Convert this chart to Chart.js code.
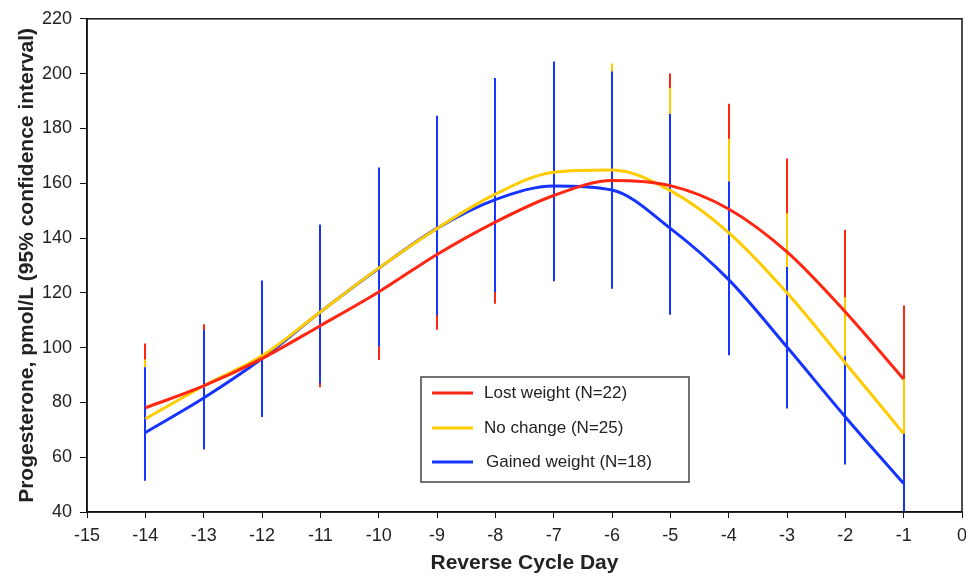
<!DOCTYPE html>
<html>
<head>
<meta charset="utf-8">
<script src="https://cdn.jsdelivr.net/npm/chart.js@4.4.0/dist/chart.umd.min.js"></script>
<style>
  html, body { margin: 0; padding: 0; background: #fff; }
  #wrap { width: 966px; height: 576px; }
</style>
</head>
<body>
<div id="wrap"><canvas id="chartProg" width="966" height="576"></canvas></div>
<script>
// días del ciclo (inverso)
const days = [-14, -13, -12, -11, -10, -9, -8, -7, -6, -5, -4, -3, -2, -1];

const lostMean = [78, 86, 96, 108, 120.3, 134, 145.8, 155.5, 161, 159.1, 150.6, 134.9, 113, 88.5];
const lostHigh = [101.5, 108.5, 121, 137, 153, 168, 182, 192, 198, 200, 189, 169, 143, 115.4];
const lostLow  = [56, 65, 76, 85.5, 95.5, 106.5, 116, 126, 125, 123, 115, 103, 87, 65];

const sameMean = [74, 86, 97, 113, 129, 143.5, 156, 164, 164.8, 157.3, 142, 120, 94.4, 68.6];
const sameHigh = [95.7, 105, 122, 140, 158, 176, 190, 200, 203.7, 194.7, 176.2, 149, 118.4, 88.5];
const sameLow  = [53, 64, 76, 89, 101, 113, 123, 128, 127, 122, 110, 95, 75, 52];

const gainMean = [69, 81.6, 96, 113, 128.9, 143.5, 154, 159, 157.5, 143.5, 124.8, 100.2, 74.7, 50.4];
const gainHigh = [92.8, 106.5, 124.5, 144.9, 165.7, 184.6, 198.4, 204.4, 200.8, 185.3, 160.6, 129.4, 96.8, 68.6];
const gainLow  = [51.4, 62.8, 74.7, 87, 100.5, 111.8, 120.3, 124.2, 121.5, 112, 97.2, 77.8, 57.3, 37];

const xTicks = [-15, 0];
const yTicks = [40, 220];

const RED = 'rgb(255, 38, 18)';
const YELLOW = 'rgb(255, 204, 0)';
const BLUE = 'rgb(22, 52, 255)';

const mkSerie = (label, mean, low, high, color) => ({
    label: label,
    data: days.map((d, i) => ({ x: d, y: mean[i], lo: low[i], hi: high[i] })),
    borderColor: color,
    backgroundColor: color,
    borderWidth: 3,
    pointRadius: 0,
    cubicInterpolationMode: 'monotone',
    fill: false
})

const data = {
    datasets: [
        mkSerie('Lost weight (N=22)', lostMean, lostLow, lostHigh, RED),
        mkSerie('No change (N=25)', sameMean, sameLow, sameHigh, YELLOW),
        mkSerie('Gained weight (N=18)', gainMean, gainLow, gainHigh, BLUE)
    ]
}

// barras de intervalo de confianza
const errorBars = {
    id: 'errorBars',
    beforeDatasetsDraw(chart) {
        const { ctx, chartArea, scales } = chart;
        ctx.save();
        ctx.beginPath();
        ctx.rect(chartArea.left, chartArea.top, chartArea.right - chartArea.left, chartArea.bottom - chartArea.top);
        ctx.clip();
        chart.data.datasets.forEach(ds => {
            ctx.strokeStyle = ds.borderColor;
            ctx.lineWidth = 2;
            ds.data.forEach(p => {
                const px = Math.round(scales.x.getPixelForValue(p.x));
                ctx.beginPath();
                ctx.moveTo(px, scales.y.getPixelForValue(p.hi));
                ctx.lineTo(px, scales.y.getPixelForValue(p.lo));
                ctx.stroke();
            });
        });
        ctx.restore();
    }
}

const frame = {
    id: 'frame',
    afterDraw(chart) {
        const { ctx, chartArea } = chart;
        ctx.save();
        ctx.strokeStyle = '#111';
        ctx.lineWidth = 1.5;
        ctx.strokeRect(chartArea.left, chartArea.top, chartArea.right - chartArea.left, chartArea.bottom - chartArea.top);

        // leyenda
        const bx = 421, by = 377, bw = 268, bh = 105;
        ctx.fillStyle = '#fff';
        ctx.fillRect(bx, by, bw, bh);
        ctx.strokeStyle = '#444';
        ctx.lineWidth = 1.5;
        ctx.strokeRect(bx, by, bw, bh);
        ctx.font = '17px "Liberation Sans", Arial, sans-serif';
        ctx.textBaseline = 'middle';
        const rows = [393, 428, 462];
        chart.data.datasets.forEach((ds, i) => {
            ctx.strokeStyle = ds.borderColor;
            ctx.lineWidth = 3;
            ctx.beginPath();
            ctx.moveTo(432, rows[i]);
            ctx.lineTo(473, rows[i]);
            ctx.stroke();
            ctx.fillStyle = '#222';
            ctx.fillText(ds.label, i === 2 ? 486 : 484, rows[i]);
        });
        ctx.restore();
    }
}

const canvas = document.getElementById('chartProg')
const ctx = canvas.getContext('2d');

const chartProg = new Chart(ctx, {
    type: 'line',
    data: data,
    plugins: [errorBars, frame],
    options: {
        responsive: false,
        animation: false,
        layout: { padding: { top: 18, right: 4, left: 0, bottom: 0 } },
        plugins: { legend: { display: false }, tooltip: { enabled: false } },
        scales: {
            x: {
                type: 'linear',
                min: xTicks[0],
                max: xTicks[1],
                afterFit: s => { s.height = 64; s.paddingRight = 0; s.paddingLeft = 0; },
                ticks: { stepSize: 1, color: '#222', padding: 7, font: { size: 18, family: '"Liberation Sans", Arial' } },
                grid: { drawOnChartArea: false, tickLength: 6, color: '#111' },
                border: { color: '#111', width: 1.5 },
                title: {
                    display: true,
                    text: 'Reverse Cycle Day',
                    color: '#222',
                    padding: { bottom: 0, top: 0 },
                    font: { size: 21, weight: 'bold', family: '"Liberation Sans", Arial' }
                }
            },
            y: {
                min: yTicks[0],
                max: yTicks[1],
                afterFit: s => { s.width = 87; },
                ticks: { stepSize: 20, color: '#222', padding: 8, font: { size: 18, family: '"Liberation Sans", Arial' } },
                grid: { drawOnChartArea: false, tickLength: 7, color: '#111' },
                border: { color: '#111', width: 1.5 },
                title: {
                    display: true,
                    text: 'Progesterone, pmol/L (95% confidence interval)',
                    color: '#222',
                    padding: { top: 15, bottom: 0 },
                    font: { size: 21, weight: 'bold', family: '"Liberation Sans", Arial' }
                }
            }
        }
    }
})
</script>
</body>
</html>
